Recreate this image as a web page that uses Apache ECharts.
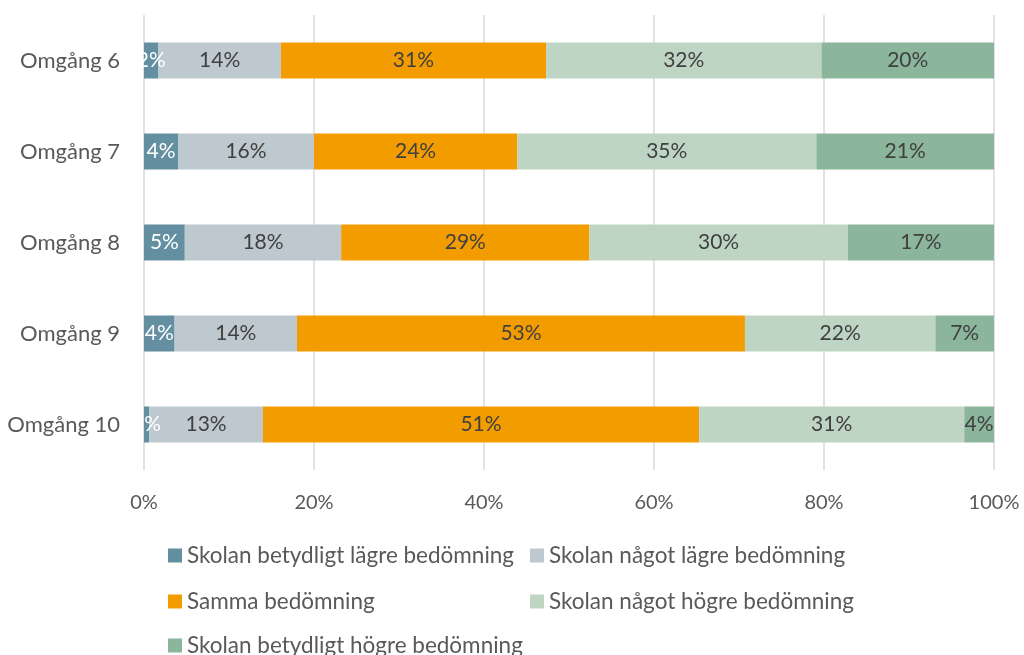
<!DOCTYPE html>
<html>
<head>
<meta charset="utf-8">
<script src="https://cdn.jsdelivr.net/npm/echarts@6/dist/echarts.min.js"></script>
<style>
  html, body { margin: 0; padding: 0; background: #fff; }
  #main { width: 1024px; height: 655px; }
</style>
</head>
<body>
<div id="main"></div>
<script>
// rounds, bottom to top as echarts draws categories
const rounds = ['Omgång 10', 'Omgång 9', 'Omgång 8', 'Omgång 7', 'Omgång 6'];
const seriesNames = [
  'Skolan betydligt lägre bedömning',
  'Skolan något lägre bedömning',
  'Samma bedömning',
  'Skolan något högre bedömning',
  'Skolan betydligt högre bedömning'
];
// percent shares per round (same order as rounds)
const muchLower = [0.6, 3.6, 4.8, 4.0, 1.7];
const bitLower = [13.4, 14.4, 18.4, 16.0, 14.4];
const same = [51.3, 52.7, 29.2, 23.9, 31.2];
const bitHigher = [31.2, 22.4, 30.4, 35.2, 32.4];
const muchHigher = [3.5, 6.9, 17.2, 20.9, 20.3];
const xTicks = [0, 20, 40, 60, 80, 100];

const colors = ['#638fa1', '#bdc9ce', '#f39c00', '#bfd5c4', '#8bb69b'];
const values = [muchLower, bitLower, same, bitHigher, muchHigher];
const font = 'Lato, "Open Sans", sans-serif';

const chart = echarts.init(document.getElementById('main'));

const series = seriesNames.map((name, i) => ({
  name: name,
  type: 'bar',
  stack: 'total',
  barWidth: 36,
  data: values[i],
  itemStyle: { color: colors[i] },
  label: {
    show: true,
    position: 'inside',
    fontFamily: font,
    fontSize: 21,
    color: i === 0 ? '#ffffff' : '#404040',
    formatter: p => Math.round(p.value) + '%'
  }
}));

// one legend per item so the two-column layout can be placed
const legendPos = [
  { left: 168, top: 544 },
  { left: 530, top: 544 },
  { left: 168, top: 590 },
  { left: 530, top: 590 },
  { left: 168, top: 634 }
];
const legends = seriesNames.map((name, i) => ({
  data: [name],
  left: legendPos[i].left,
  top: legendPos[i].top,
  padding: 0,
  itemWidth: 14,
  itemHeight: 14,
  itemGap: 4,
  icon: 'rect',
  selectedMode: false,
  textStyle: { fontFamily: font, fontSize: 22.5, color: '#595959' }
}));

chart.setOption({
  animation: false,
  textStyle: { fontFamily: font },
  grid: { left: 144, right: 30, top: 15, bottom: 185 },
  legend: legends,
  xAxis: {
    type: 'value',
    min: 0,
    max: 100,
    interval: 20,
    axisLine: { show: false },
    axisTick: { show: false },
    splitLine: { lineStyle: { color: '#d9d9d9', width: 1.5 } },
    axisLabel: {
      margin: 23,
      fontSize: 20,
      color: '#595959',
      formatter: v => xTicks.includes(v) ? v + '%' : ''
    }
  },
  yAxis: {
    type: 'category',
    data: rounds,
    axisLine: { show: false },
    axisTick: { show: false },
    axisLabel: { margin: 24, fontSize: 22, color: '#595959' }
  },
  series: series
});
</script>
</body>
</html>
